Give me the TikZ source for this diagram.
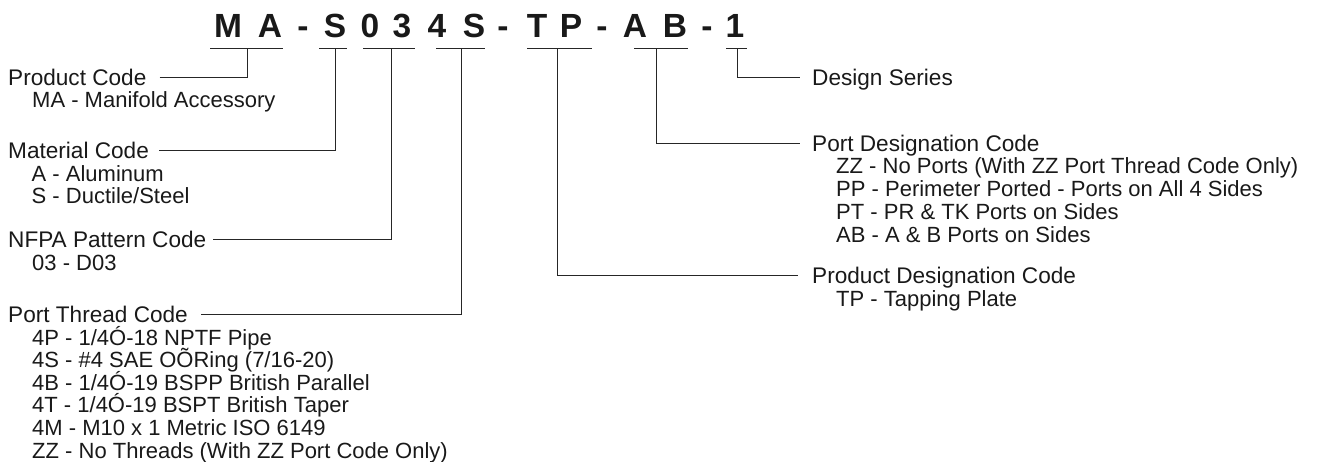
\documentclass[tikz,border=0pt]{standalone}
\usepackage{fontspec}
\setmainfont{Liberation Sans}
\begin{document}
\begin{tikzpicture}[x=1pt,y=-1pt,
  lbl/.style={font=\fontsize{22.6}{22.6}\selectfont, inner sep=0pt, anchor=base west, text height=16pt, text depth=0pt, text=black!90},
  sub/.style={font=\fontsize{22}{22.6}\selectfont, inner sep=0pt, anchor=base west, text=black!90},
  hdr/.style={font=\fontsize{33.5}{36}\selectfont\bfseries, inner sep=0pt, anchor=base, text=black!90},
  conn/.style={line width=1pt, draw=black!85},
]
\useasboundingbox (0,0) rectangle (1327,461);

% header code letters
\foreach \x/\c [count=\i] in {228/M,270/A,303/-,335/S,370/0,402/3,437/4,474/S,503/-,537/T,571/P,602/-,635/A,675/B,707/-,735/1}
  \node[hdr] (h\i) at (\x,37) {\c};

% underline tick points
\coordinate (u1) at (247,48);
\coordinate (u2) at (335,48);
\coordinate (u3) at (391,48);
\coordinate (u4) at (461,48);
\coordinate (u5) at (557,48);
\coordinate (u6) at (656,48);
\coordinate (u7) at (737,48);

% underlines
\draw[conn] (210,48) -- (283,48);
\draw[conn] (319,48) -- (347,48);
\draw[conn] (363,48) -- (415,48);
\draw[conn] (436,48) -- (485,48);
\draw[conn] (527,48) -- (592,48);
\draw[conn] (634,48) -- (688,48);
\draw[conn] (726,48) -- (747,48);

% left labels
\node[lbl] (pc) at (8,85) {Product Code};
\node[sub] (pcs1) at (32,107) {MA - Manifold Accessory};

\node[lbl] (mc) at (8,158) {Material Code};
\foreach \t [count=\i] in {{A - Aluminum},{S - Ductile/Steel}}
  \node[sub] (mcs\i) at (31.5,{181+(\i-1)*22.8}) {\t};

\node[lbl] (nf) at (8,247) {NFPA Pattern Code};
\node[sub] (nfs1) at (32,270) {03 - D03};

\node[lbl] (pt) at (8,322) {Port Thread Code};
\foreach \t [count=\i] in {{4P - 1/4Ó-18 NPTF Pipe},{4S - \#4 SAE OÕRing (7/16-20)},{4B - 1/4Ó-19 BSPP British Parallel},{4T - 1/4Ó-19 BSPT British Taper},{4M - M10 x 1 Metric ISO 6149},{ZZ - No Threads (With ZZ Port Code Only)}}
  \node[sub] (pts\i) at (32,{345+(\i-1)*22.65}) {\t};

% right labels
\node[lbl] (ds) at (812,85) {Design Series};

\node[lbl] (pd) at (812,151) {Port Designation Code};
\foreach \t [count=\i] in {{ZZ - No Ports (With ZZ Port Thread Code Only)},{PP - Perimeter Ported - Ports on All 4 Sides},{PT - PR \& TK Ports on Sides},{AB - A \& B Ports on Sides}}
  \node[sub] (pds\i) at (836,{173.5+(\i-1)*23}) {\t};

\node[lbl] (prd) at (812,283) {Product Designation Code};
\node[sub] (prds1) at (836,306) {TP - Tapping Plate};

% connectors
\draw[conn] ([xshift=13pt]pc.east) -| (u1);
\draw[conn] ([xshift=10pt]mc.east) -| (u2);
\draw[conn] ([xshift=7pt]nf.east) -| (u3);
\draw[conn] ([xshift=13pt]pt.east) -| (u4);
\draw[conn] (u5) |- ([xshift=-14pt]prd.west);
\draw[conn] (u6) |- ([xshift=-12pt]pd.west);
\draw[conn] (u7) |- ([xshift=-12pt]ds.west);
\end{tikzpicture}
\end{document}
